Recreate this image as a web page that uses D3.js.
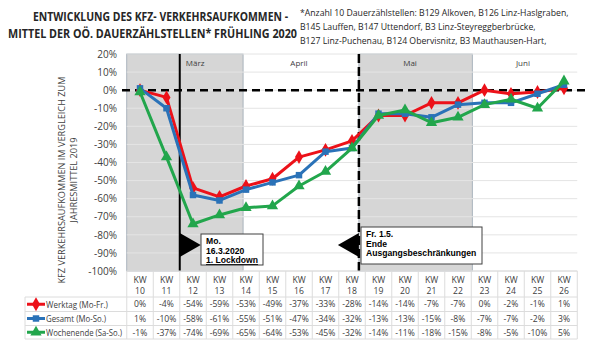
<!DOCTYPE html>
<html>
<head>
<meta charset="utf-8">
<script src="https://cdn.jsdelivr.net/npm/d3@7"></script>
<style>
  html, body { margin: 0; padding: 0; background: #fff; }
  svg { display: block; font-family: "Open Sans", "DejaVu Sans", sans-serif; }
</style>
</head>
<body>
<svg id="chart" width="600" height="342"></svg>
<script>
// Calendar weeks (KW) shown on the x axis
const weeks = ["10","11","12","13","14","15","16","17","18","19","20","21","22","23","24","25","26"];

// Change in traffic volume vs. 2019 annual mean, percent
const werktag    = [0, -4, -54, -59, -53, -49, -37, -33, -28, -14, -14, -7, -7, 0, -2, -1, 1];
const gesamt     = [1, -10, -58, -61, -55, -51, -47, -34, -32, -13, -13, -15, -8, -7, -7, -2, 3];
const wochenende = [-1, -37, -74, -69, -65, -64, -53, -45, -32, -14, -11, -18, -15, -8, -5, -10, 5];

const seriesNames = ["Werktag (Mo-Fr.)", "Gesamt (Mo-So.)", "Wochenende (Sa-So.)"];

// Y axis ticks
const yTicks = [20, 10, 0, -10, -20, -30, -40, -50, -60, -70, -80, -90, -100];

// Month bands, in week units from the start of KW10
const monthNames  = ["März", "April", "Mai", "Juni"];
const monthStart  = [0, 4.39, 8.76, 13.04];
const monthEnd    = [4.39, 8.76, 13.04, 17];
const monthShaded = [true, false, true, false];
const monthLabelAt = [2.58, 6.5, 10.69, 14.95];

// Event markers, in week units
const lockdownAt = 2.0;     // Mo. 16.3.2020
const reopenAt   = 8.76;    // Fr. 1.5.

const titleLines = ["ENTWICKLUNG DES KFZ- VERKEHRSAUFKOMMEN -", "MITTEL DER  OÖ. DAUERZÄHLSTELLEN* FRÜHLING 2020"];
const noteLines = [
  "*Anzahl 10 Dauerzählstellen: B129 Alkoven, B126 Linz-Haslgraben,",
  "B145 Lauffen, B147 Uttendorf, B3 Linz-Steyreggberbrücke,",
  "B127 Linz-Puchenau, B124 Obervisnitz, B3 Mauthausen-Hart,"
];
const yTitleLines = ["KFZ VERKEHRSAUFKOMMEN IM VERGLEICH ZUM", "JAHRESMITTEL 2019"];

const svg = d3.select("#chart");

const plotLeft = 126.75, plotRight = 577.25, plotTop = 54, plotBottom = 271;

const x = d3.scaleBand().domain(weeks).range([plotLeft, plotRight]);
const xw = d3.scaleLinear().domain([0, weeks.length]).range([plotLeft, plotRight]);
const y = d3.scaleLinear().domain([20, -100]).range([plotTop, plotBottom]);

const colors = ["#ec1119", "#2a72b8", "#22a64c"];
const seriesData = [werktag, gesamt, wochenende];

// ---- Titles ----
const tg = svg.append("g").attr("fill", "#262626").attr("font-weight", 700).attr("font-size", 11.5);
tg.append("text").attr("x", 33).attr("y", 21).attr("textLength", 255).attr("lengthAdjust", "spacingAndGlyphs").text(titleLines[0]);
tg.append("text").attr("x", 8).attr("y", 37.5).attr("textLength", 289).attr("lengthAdjust", "spacingAndGlyphs").text(titleLines[1]);

// Footnote listing the counting stations
const ng = svg.append("g").attr("fill", "#262626").attr("font-size", 8.7);
noteLines.forEach((t, i) => {
  const el = ng.append("text").attr("x", 300).attr("y", 16 + i * 14).text(t);
  const w = el.node().getComputedTextLength();
  if (w > 294) el.attr("textLength", 294).attr("lengthAdjust", "spacingAndGlyphs");
});

// ---- Month bands ----
const bands = svg.append("g");
monthNames.forEach((m, i) => {
  if (monthShaded[i]) {
    bands.append("rect")
      .attr("x", xw(monthStart[i])).attr("y", plotTop)
      .attr("width", xw(monthEnd[i]) - xw(monthStart[i]))
      .attr("height", plotBottom - plotTop)
      .attr("fill", "#d6d6d6").attr("stroke", "#9aa6b2").attr("stroke-width", 0.8);
  }
});

// ---- Gridlines ----
svg.append("g").selectAll("line").data(yTicks).join("line")
  .attr("x1", plotLeft).attr("x2", plotRight)
  .attr("y1", d => y(d)).attr("y2", d => y(d))
  .attr("stroke", "#e4e4e4").attr("stroke-width", 1);

// Month labels
svg.append("g").attr("font-size", 8).attr("fill", "#404040").attr("text-anchor", "middle")
  .selectAll("text").data(monthNames).join("text")
  .attr("x", (d, i) => xw(monthLabelAt[i])).attr("y", 66).text(d => d);

// ---- Y axis ----
const yAxis = d3.axisLeft(y).tickValues(yTicks).tickSize(0).tickPadding(0).tickFormat(d => d + "%");
const ya = svg.append("g").attr("transform", "translate(117,0)").call(yAxis);
ya.select(".domain").remove();
ya.selectAll("text").attr("font-size", 10).attr("fill", "#404040").attr("font-family", "Open Sans");

// Y axis title
const yt = svg.append("g").attr("font-size", 9).attr("fill", "#404040").attr("text-anchor", "middle");
yt.append("text").attr("transform", "translate(64.5,180) rotate(-90)")
  .attr("textLength", 207).attr("lengthAdjust", "spacingAndGlyphs").text(yTitleLines[0]);
yt.append("text").attr("transform", "translate(77,180) rotate(-90)")
  .attr("textLength", 85).attr("lengthAdjust", "spacingAndGlyphs").text(yTitleLines[1]);

// ---- Reference lines ----
svg.append("line").attr("x1", 122).attr("x2", 585).attr("y1", y(0)).attr("y2", y(0))
  .attr("stroke", "#000").attr("stroke-width", 2.5).attr("stroke-dasharray", "8,5");
svg.append("line").attr("x1", xw(lockdownAt)).attr("x2", xw(lockdownAt))
  .attr("y1", plotTop).attr("y2", plotBottom)
  .attr("stroke", "#000").attr("stroke-width", 2);
svg.append("line").attr("x1", xw(reopenAt)).attr("x2", xw(reopenAt))
  .attr("y1", plotTop).attr("y2", plotBottom)
  .attr("stroke", "#000").attr("stroke-width", 2.5).attr("stroke-dasharray", "9,4");

// ---- Series ----
const cx = d => x(d) + x.bandwidth() / 2;
const line = d3.line().x((d, i) => cx(weeks[i])).y(d => y(d));
const symbols = [d3.symbolDiamond, d3.symbolSquare, d3.symbolTriangle];
const symSizes = [55, 42, 55];

seriesData.forEach((vals, s) => {
  const g = svg.append("g");
  g.append("path").datum(vals).attr("d", line)
    .attr("fill", "none").attr("stroke", colors[s]).attr("stroke-width", 3).attr("stroke-linejoin", "round");
  g.selectAll("path.m").data(vals).join("path").attr("class", "m")
    .attr("transform", (d, i) => `translate(${cx(weeks[i])},${y(d)})`)
    .attr("d", d3.symbol().type(symbols[s]).size(symSizes[s]))
    .attr("fill", colors[s]);
});

// ---- Annotations ----
function callout(tri, box, lines, underlineLast) {
  svg.append("path").attr("d", d3.line()(tri)).attr("fill", "#000");
  svg.append("rect").attr("x", box[0]).attr("y", box[1]).attr("width", box[2]).attr("height", box[3])
    .attr("fill", "#fff").attr("stroke", "#404040").attr("stroke-width", 1);
  const t = svg.append("g").attr("font-family", "Liberation Sans, Arial, sans-serif")
    .attr("font-weight", 700).attr("font-size", 8.6).attr("fill", "#000");
  lines.forEach((l, i) => {
    const tx = t.append("text").attr("x", box[0] + 5).attr("y", box[1] + 10 + i * 9.6).text(l);
    if (underlineLast && i === lines.length - 1) tx.attr("text-decoration", "underline");
  });
}
const lx = xw(lockdownAt), rx = xw(reopenAt);
callout([[lx, 233], [lx + 21, 245], [lx, 257]], [201, 234, 62, 31], ["Mo.", "16.3.2020", "1. Lockdown"], true);
callout([[rx, 233], [rx - 21, 245], [rx, 257]], [361, 227, 121, 37], ["Fr. 1.5.", "Ende", "Ausgangsbeschränkungen"], false);

// ---- Data table ----
const tableTop = 271, rowY = [297, 311.5, 325.5, 339];
const tbl = svg.append("g");
// horizontal rules
[tableTop].concat(rowY).forEach((yy, i) => {
  tbl.append("line").attr("x1", i === 0 ? plotLeft : 25).attr("x2", plotRight)
    .attr("y1", yy).attr("y2", yy).attr("stroke", "#dcdcdc").attr("stroke-width", 1);
});
// vertical rules
d3.range(weeks.length + 1).forEach(k => {
  tbl.append("line").attr("x1", xw(k)).attr("x2", xw(k)).attr("y1", tableTop).attr("y2", rowY[3])
    .attr("stroke", "#dcdcdc").attr("stroke-width", 1);
});
tbl.append("line").attr("x1", 25).attr("x2", 25).attr("y1", rowY[0]).attr("y2", rowY[3])
  .attr("stroke", "#dcdcdc");

const tt = tbl.append("g").attr("font-size", 8.6).attr("fill", "#404040").attr("text-anchor", "middle");
weeks.forEach(w => {
  tt.append("text").attr("x", cx(w)).attr("y", 283).text("KW");
  tt.append("text").attr("x", cx(w)).attr("y", 293.5).text(w);
});
const legendLens = [62, 60, 76];
seriesData.forEach((vals, s) => {
  vals.forEach((v, i) => {
    tt.append("text").attr("x", cx(weeks[i])).attr("y", rowY[s] + 10).text(v + "%");
  });
  // legend key
  const ly = (rowY[s] + rowY[s + 1]) / 2;
  tbl.append("line").attr("x1", 27).attr("x2", 45).attr("y1", ly).attr("y2", ly)
    .attr("stroke", colors[s]).attr("stroke-width", 3);
  tbl.append("path").attr("transform", `translate(36,${ly})`)
    .attr("d", d3.symbol().type(symbols[s]).size(symSizes[s])).attr("fill", colors[s]);
  tbl.append("text").attr("x", 46).attr("y", ly + 3.3).attr("font-size", 8.8).attr("fill", "#404040")
    .attr("textLength", legendLens[s]).attr("lengthAdjust", "spacingAndGlyphs")
    .text(seriesNames[s]);
});
</script>
</body>
</html>
